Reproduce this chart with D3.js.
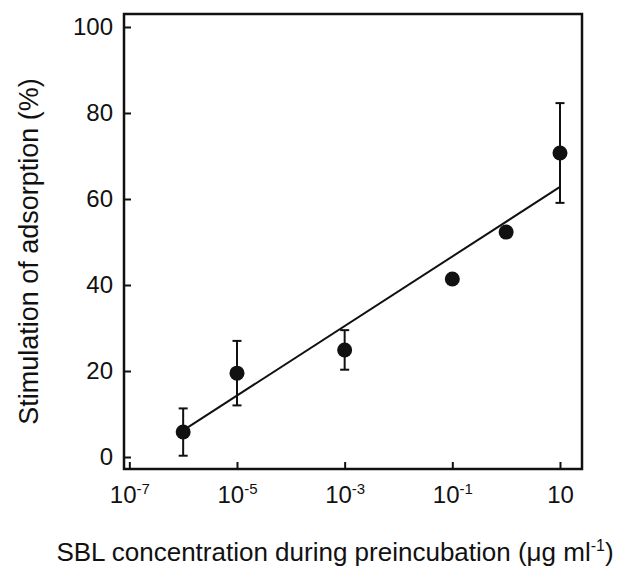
<!DOCTYPE html>
<html>
<head>
<meta charset="utf-8">
<script src="https://cdn.jsdelivr.net/npm/d3@7"></script>
<style>
  html, body { margin: 0; padding: 0; background: #fff; }
  svg { display: block; }
  text { font-family: "Liberation Sans", Arial, Helvetica, sans-serif; fill: #111; }
</style>
</head>
<body>
<svg id="chart" width="627" height="566"></svg>
<script>
// ---- data ----
const concentrations = [1e-6, 1e-5, 1e-3, 1e-1, 1, 10];
const stimulation = [5.8, 19.5, 24.9, 41.4, 52.3, 70.7];
const errors = [5.5, 7.5, 4.6, 0, 0, 11.6];
const fitX = [1e-6, 10];
const fitY = [6.2, 62.8];
const xTickValues = [1e-7, 1e-5, 1e-3, 1e-1, 10];
const xTickExponents = ["-7", "-5", "-3", "-1", null];
const yTickValues = [0, 20, 40, 60, 80, 100];

const svg = d3.select("#chart");
const plotLeft = 124, plotRight = 582, plotTop = 14, plotBottom = 469;

const x = d3.scaleLog().domain([Math.pow(10, -7.099), Math.pow(10, 1.409)]).range([plotLeft, plotRight]);
const y = d3.scaleLinear().domain([-2.79, 103.02]).range([plotBottom, plotTop]);

const ink = "#111";

// y axis (ticks inward)
const yAxis = d3.axisLeft(y).tickValues(yTickValues).tickSize(-7).tickPadding(11).tickFormat(d3.format("d"));
const gy = svg.append("g").attr("transform", `translate(${plotLeft},0)`).call(yAxis);
gy.select(".domain").remove();
gy.selectAll(".tick line").attr("stroke", ink).attr("stroke-width", 2);
gy.selectAll(".tick text").attr("font-size", 24).attr("font-family", "Liberation Sans, Arial, sans-serif").attr("fill", ink);

// x axis (ticks inward)
const xAxis = d3.axisBottom(x).tickValues(xTickValues).tickSize(-7).tickPadding(0).tickFormat(() => "");
const gx = svg.append("g").attr("transform", `translate(0,${plotBottom})`).call(xAxis);
gx.select(".domain").remove();
gx.selectAll(".tick line").attr("stroke", ink).attr("stroke-width", 2);
gx.selectAll(".tick").each(function(d, i) {
  const t = d3.select(this).select("text")
    .attr("y", 34).attr("dy", null)
    .attr("font-size", 24).attr("font-family", "Liberation Sans, Arial, sans-serif")
    .attr("text-anchor", "middle").attr("fill", ink);
  t.text(null);
  t.append("tspan").text("10");
  const e = xTickExponents[i];
  if (e) {
    t.append("tspan").attr("font-size", 15).attr("dy", -9).text(e);
  }
});

// frame
svg.append("rect")
  .attr("x", plotLeft).attr("y", plotTop)
  .attr("width", plotRight - plotLeft).attr("height", plotBottom - plotTop)
  .attr("fill", "none").attr("stroke", ink).attr("stroke-width", 2.5);

// fit line
const line = d3.line().x(d => x(d[0])).y(d => y(d[1]));
svg.append("path")
  .datum(fitX.map((v, i) => [v, fitY[i]]))
  .attr("d", line)
  .attr("fill", "none").attr("stroke", ink).attr("stroke-width", 2);

// error bars
const pts = concentrations.map((c, i) => ({c, v: stimulation[i], e: errors[i]}));
const eb = svg.append("g").selectAll("g").data(pts.filter(p => p.e > 0)).join("g");
eb.append("line")
  .attr("x1", d => x(d.c)).attr("x2", d => x(d.c))
  .attr("y1", d => y(d.v - d.e)).attr("y2", d => y(d.v + d.e))
  .attr("stroke", ink).attr("stroke-width", 2);
eb.append("line")
  .attr("x1", d => x(d.c) - 4.5).attr("x2", d => x(d.c) + 4.5)
  .attr("y1", d => y(d.v + d.e)).attr("y2", d => y(d.v + d.e))
  .attr("stroke", ink).attr("stroke-width", 2);
eb.append("line")
  .attr("x1", d => x(d.c) - 4.5).attr("x2", d => x(d.c) + 4.5)
  .attr("y1", d => y(d.v - d.e)).attr("y2", d => y(d.v - d.e))
  .attr("stroke", ink).attr("stroke-width", 2);

// points
svg.append("g").selectAll("circle").data(pts).join("circle")
  .attr("cx", d => x(d.c)).attr("cy", d => y(d.v)).attr("r", 7.5)
  .attr("fill", ink);

// axis titles
const xt = svg.append("text")
  .attr("x", 335).attr("y", 561).attr("text-anchor", "middle")
  .attr("font-size", 26);
xt.append("tspan").text("SBL concentration during preincubation (\u03bcg ml");
xt.append("tspan").attr("font-size", 16).attr("dy", -10).text("-1");
xt.append("tspan").attr("dy", 10).text(")");

svg.append("text")
  .attr("transform", "translate(38,251.5) rotate(-90)")
  .attr("text-anchor", "middle")
  .attr("font-size", 27)
  .text("Stimulation of adsorption (%)");
</script>
</body>
</html>
